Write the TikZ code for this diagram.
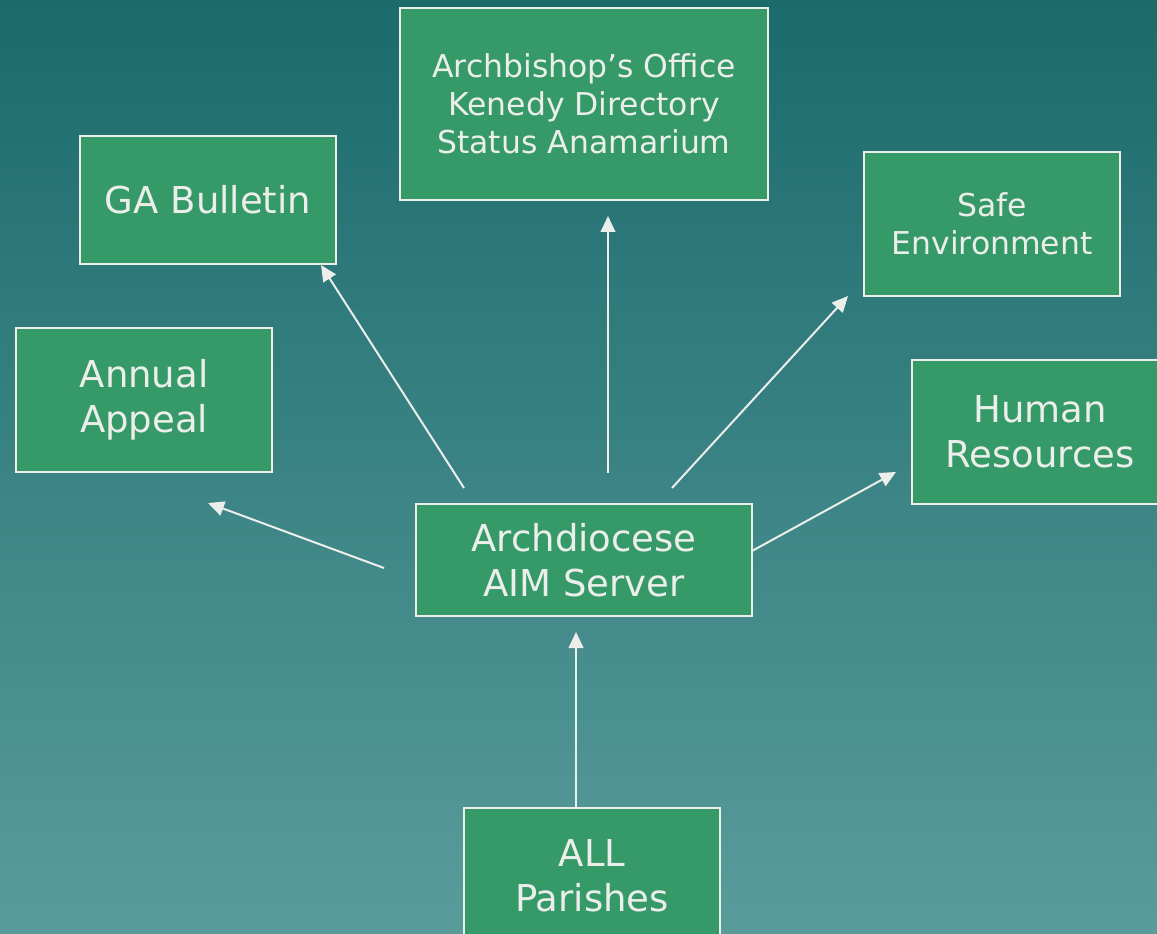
\documentclass[tikz,border=0pt]{standalone}
\usepackage{fontspec}
\setmainfont{DejaVu Sans}
\usetikzlibrary{arrows.meta}
\definecolor{bgtop}{RGB}{27,106,108}
\definecolor{bgbot}{RGB}{90,156,156}
\definecolor{boxfill}{RGB}{53,154,104}
\definecolor{ink}{RGB}{235,238,234}
\tikzset{
  box/.style={draw=ink, line width=1.5pt, fill=boxfill, text=ink, inner sep=0pt,
    minimum width=192pt, minimum height=108pt, align=center,
    font=\fontsize{27.75pt}{33.75pt}\selectfont},
  smallbox/.style={box, font=\fontsize{23.6pt}{28.6pt}\selectfont},
  link/.style={draw=ink, line width=1.5pt, -{Triangle[length=12pt,width=11pt]}}
}
\begin{document}
\begin{tikzpicture}[x=0.75pt,y=-0.75pt]
\useasboundingbox (0,0) rectangle (1157,934);
\clip (0,0) rectangle (1157,934);
\fill[top color=bgtop, bottom color=bgbot] (0,0) rectangle (1157,934);

\node[smallbox, minimum width=276pt, minimum height=144pt] (arch) at (584,104) {Archbishop’s Office\\Kenedy Directory\\Status Anamarium};
\node[box, minimum height=96pt] (ga) at (208,200) {GA Bulletin};
\node[smallbox] (safe) at (992,224) {Safe\\Environment};
\node[box] (annual) at (144,400) {Annual\\Appeal};
\node[box] (hr) at (1040,432) {Human\\Resources};
\node[box, minimum width=252pt, minimum height=84pt] (aim) at (584,560) {Archdiocese\\AIM Server};
\node[box, minimum height=102pt] (all) at (592,876) {ALL\\Parishes};

\coordinate (s1) at (384,568); \coordinate (t1) at (208,503);
\coordinate (s2) at (464,488); \coordinate (t2) at (321,265);
\coordinate (s3) at (608,473); \coordinate (t3) at (608,216);
\coordinate (s4) at (672,488); \coordinate (t4) at (848,296);
\coordinate (s5) at (752,551); \coordinate (t5) at (896,472);
\coordinate (t6) at (576,632);

\draw[link] (s1) -- (t1);
\draw[link] (s2) -- (t2);
\draw[link] (s3) -- (t3);
\draw[link] (s4) -- (t4);
\draw[link] (s5) -- (t5);
\draw[link] (all.north -| t6) -- (t6);
\end{tikzpicture}
\end{document}
